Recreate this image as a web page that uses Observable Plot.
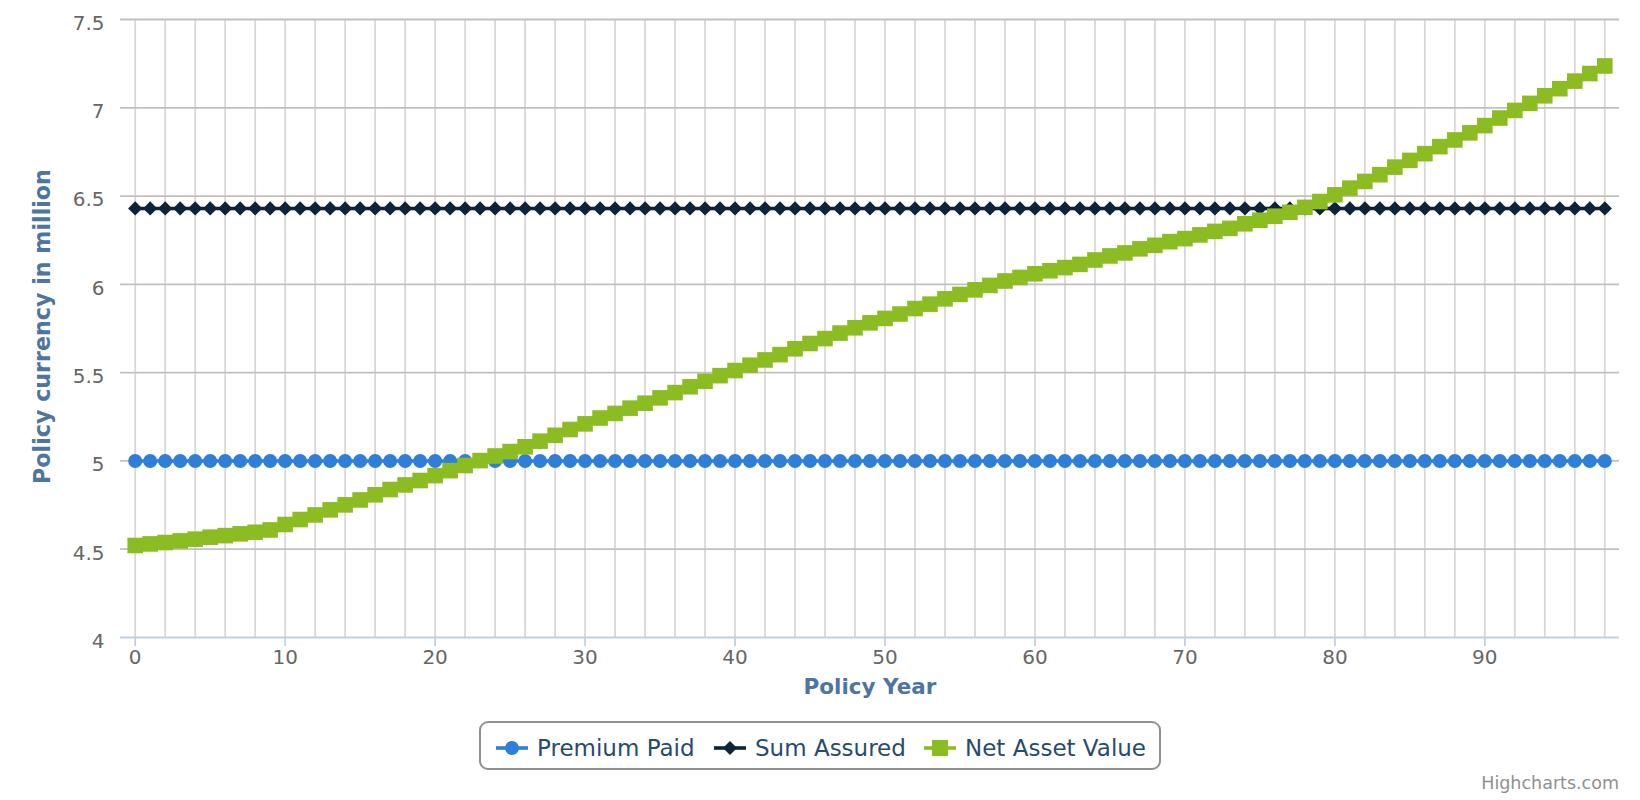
<!DOCTYPE html>
<html><head><meta charset="utf-8">
<script src="https://cdn.jsdelivr.net/npm/d3@7"></script>
<script src="https://cdn.jsdelivr.net/npm/@observablehq/plot@0.6"></script>
<style>
body{margin:0;background:#fff;font-family:"DejaVu Sans",sans-serif;}
#wrap{position:relative;width:1640px;height:800px;overflow:hidden;}
#legend{position:absolute;left:479px;top:721px;width:678px;height:45px;border:2px solid #909090;border-radius:9px;box-sizing:content-box;}
.item{position:absolute;top:2px;height:45px;display:flex;align-items:center;color:#274b6d;font-size:23px;white-space:nowrap;}
.item svg{margin-right:9px;}
#credit{position:absolute;right:21px;top:773px;font-size:17.5px;color:#909090;}
</style></head><body>
<div id="wrap"><div id="chart"></div>
<div id="legend"></div>
<div id="credit">Highcharts.com</div>
</div>
<script>
const years = [0,1,2,3,4,5,6,7,8,9,10,11,12,13,14,15,16,17,18,19,20,21,22,23,24,25,26,27,28,29,30,31,32,33,34,35,36,37,38,39,40,41,42,43,44,45,46,47,48,49,50,51,52,53,54,55,56,57,58,59,60,61,62,63,64,65,66,67,68,69,70,71,72,73,74,75,76,77,78,79,80,81,82,83,84,85,86,87,88,89,90,91,92,93,94,95,96,97,98];
const premiumPaid = [5,5,5,5,5,5,5,5,5,5,5,5,5,5,5,5,5,5,5,5,5,5,5,5,5,5,5,5,5,5,5,5,5,5,5,5,5,5,5,5,5,5,5,5,5,5,5,5,5,5,5,5,5,5,5,5,5,5,5,5,5,5,5,5,5,5,5,5,5,5,5,5,5,5,5,5,5,5,5,5,5,5,5,5,5,5,5,5,5,5,5,5,5,5,5,5,5,5,5];
const sumAssured = [6.43,6.43,6.43,6.43,6.43,6.43,6.43,6.43,6.43,6.43,6.43,6.43,6.43,6.43,6.43,6.43,6.43,6.43,6.43,6.43,6.43,6.43,6.43,6.43,6.43,6.43,6.43,6.43,6.43,6.43,6.43,6.43,6.43,6.43,6.43,6.43,6.43,6.43,6.43,6.43,6.43,6.43,6.43,6.43,6.43,6.43,6.43,6.43,6.43,6.43,6.43,6.43,6.43,6.43,6.43,6.43,6.43,6.43,6.43,6.43,6.43,6.43,6.43,6.43,6.43,6.43,6.43,6.43,6.43,6.43,6.43,6.43,6.43,6.43,6.43,6.43,6.43,6.43,6.43,6.43,6.43,6.43,6.43,6.43,6.43,6.43,6.43,6.43,6.43,6.43,6.43,6.43,6.43,6.43,6.43,6.43,6.43,6.43,6.43];
const netAssetValue = [4.521,4.530,4.538,4.547,4.557,4.568,4.577,4.587,4.596,4.609,
4.640,4.668,4.694,4.723,4.751,4.779,4.808,4.838,4.864,4.889,
4.917,4.945,4.974,5.002,5.028,5.053,5.080,5.112,5.145,5.178,
5.210,5.243,5.269,5.299,5.327,5.357,5.387,5.420,5.451,5.483,
5.512,5.542,5.572,5.602,5.635,5.665,5.693,5.724,5.754,5.782,
5.807,5.832,5.863,5.888,5.918,5.943,5.969,5.994,6.019,6.039,
6.060,6.077,6.095,6.113,6.138,6.161,6.178,6.201,6.221,6.242,
6.259,6.280,6.300,6.317,6.343,6.363,6.386,6.408,6.436,6.469,
6.507,6.545,6.583,6.621,6.664,6.702,6.740,6.780,6.818,6.858,
6.899,6.942,6.985,7.025,7.068,7.108,7.151,7.194,7.237];
const xTickLabels = [0,10,20,30,40,50,60,70,80,90];
const yTickLabels = [4,4.5,5,5.5,6,6.5,7,7.5];
const xGrid = [0,2,4,6,8,10,12,14,16,18,20,22,24,26,28,30,32,34,36,38,40,42,44,46,48,50,52,54,56,58,60,62,64,66,68,70,72,74,76,78,80,82,84,86,88,90,92,94,96,98];
const seriesNames = ["Premium Paid","Sum Assured","Net Asset Value"];
const seriesColors = ["#2f7ed8","#0d233a","#8bbc21"];

const data = years.map((yr,i)=>({year:yr, premium:premiumPaid[i], sum:sumAssured[i], nav:netAssetValue[i]}));

const chart = Plot.plot({
  width:1640, height:700,
  marginLeft:120, marginRight:21, marginTop:19, marginBottom:63,
  style:{fontFamily:'"DejaVu Sans", sans-serif', fontSize:'20px', color:'#666', background:'#fff', overflow:'visible'},
  x:{domain:[-0.98, 98.98]},
  y:{domain:[4,7.5]},
  marks:[
    Plot.ruleX(xGrid, {x:d=>d, stroke:'#d8d8d8', strokeWidth:1.8}),
    Plot.ruleY(yTickLabels.filter(v=>v>4), {y:d=>d, stroke:'#c0c0c0', strokeWidth:1.8}),
    Plot.ruleY([4], {y:d=>d, stroke:'#c0d0e0', strokeWidth:1.8}),
    Plot.axisX({ticks:xTickLabels, tickSize:9, tickPadding:3, stroke:'#c0d0e0', strokeWidth:1.8, fill:'#666', label:null}),
    Plot.axisY({ticks:yTickLabels, tickSize:0, tickPadding:16, tickFormat:d=>String(d), fill:'#666', dy:4, label:null}),
    Plot.text(["Policy currency in million"], {frameAnchor:'left', textAnchor:'middle', lineAnchor:'middle', rotate:-90, dx:-78, dy:-2, fill:'#4d759e', fontWeight:'bold', fontSize:22.2}),
    Plot.text(["Policy Year"], {frameAnchor:'bottom', textAnchor:'middle', lineAnchor:'middle', dy:50, fill:'#4d759e', fontWeight:'bold', fontSize:21.5}),
    Plot.line(data, {x:'year', y:'premium', stroke:seriesColors[0], strokeWidth:3.6}),
    Plot.dot(data, {x:'year', y:'premium', fill:seriesColors[0], stroke:'none', r:7, symbol:'circle'}),
    Plot.line(data, {x:'year', y:'sum', stroke:seriesColors[1], strokeWidth:3.6}),
    Plot.dot(data, {x:'year', y:'sum', fill:seriesColors[1], stroke:'none', r:6.4, symbol:'diamond2'}),
    Plot.line(data, {x:'year', y:'nav', stroke:seriesColors[2], strokeWidth:3.6}),
    Plot.dot(data, {x:'year', y:'nav', fill:seriesColors[2], stroke:'none', r:8.8, symbol:'square'})
  ]
});
document.getElementById('chart').appendChild(chart);

// legend
const legend = document.getElementById('legend');
const itemLeft = [15, 233, 443];
const sym = [
  '<circle cx="16" cy="12" r="7" fill="#2f7ed8"/>',
  '<path d="M16 5 L23 12 L16 19 L9 12 Z" fill="#0d233a"/>',
  '<rect x="8" y="4" width="16" height="16" fill="#8bbc21"/>'
];
seriesNames.forEach((name,i)=>{
  const div = document.createElement('div');
  div.className='item';
  div.style.left = itemLeft[i]+'px';
  div.innerHTML = `<svg width="32" height="24"><line x1="0" x2="32" y1="12" y2="12" stroke="${seriesColors[i]}" stroke-width="3.6"/>${sym[i]}</svg><span>${name}</span>`;
  legend.appendChild(div);
});
</script>
</body></html>
